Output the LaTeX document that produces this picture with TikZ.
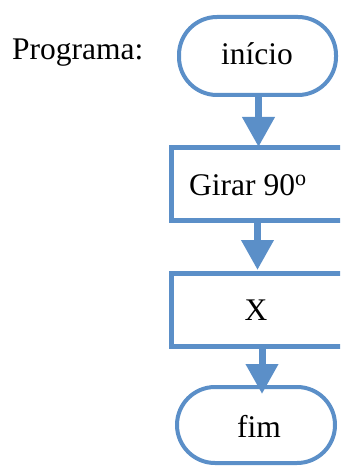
\documentclass[tikz,border=0pt]{standalone}
\usepackage{fontspec}
\setmainfont{Liberation Serif}
\usetikzlibrary{arrows.meta}
\definecolor{flowblue}{HTML}{5B8FC8}
\begin{document}
\begin{tikzpicture}[x=1pt,y=-1pt,
  lbl/.style={inner sep=0pt, anchor=base, font=\fontsize{31.5}{38}\selectfont},
  stadium/.style={draw=flowblue, line width=4pt, rounded corners=38pt},
  procbox/.style={draw=flowblue, line width=4.5pt},
  flowarrow/.style={draw=flowblue, line width=7pt, -{Triangle[length=30pt,width=31pt,fill=flowblue]}, shorten >=-2pt}]
\useasboundingbox (0,0) rectangle (340,468);
\clip (0,0) rectangle (340,468);
% shapes
\node[stadium, minimum width=157pt, minimum height=78pt, inner sep=0pt] (inicio) at (257.5,56) {};
\node[procbox, minimum width=211pt, minimum height=73pt, inner sep=0pt, anchor=north west] (girar) at (169,145) {};
\node[procbox, minimum width=211pt, minimum height=73pt, inner sep=0pt, anchor=north west] (xbox) at (169,271) {};
\node[stadium, minimum width=158pt, minimum height=76pt, inner sep=0pt] (fim) at (256,425) {};
% texts
\node[lbl, anchor=base west] (prog) at (12,60) {Programa:};
\node[lbl] (tinicio) at (257,65) {início};
\node[lbl, anchor=base west] (tgirar) at (189,195) {Girar 90\textsuperscript{o}};
\node[lbl] (tx) at (256,320) {X};
\node[lbl] (tfim) at (259,437) {fim};
% connectors
\coordinate (a1s) at (258.5,97);
\coordinate (a1e) at (258.5,145);
\coordinate (a2s) at (257.5,220);
\coordinate (a2e) at (257.5,268);
\coordinate (a3s) at (262,347);
\coordinate (a3e) at (262,392);
\draw[flowarrow] (inicio.south -| a1s) -- (a1e);
\draw[flowarrow] (girar.south -| a2s) -- (a2e);
\draw[flowarrow] (xbox.south -| a3s) -- (a3e);
\end{tikzpicture}
\end{document}
